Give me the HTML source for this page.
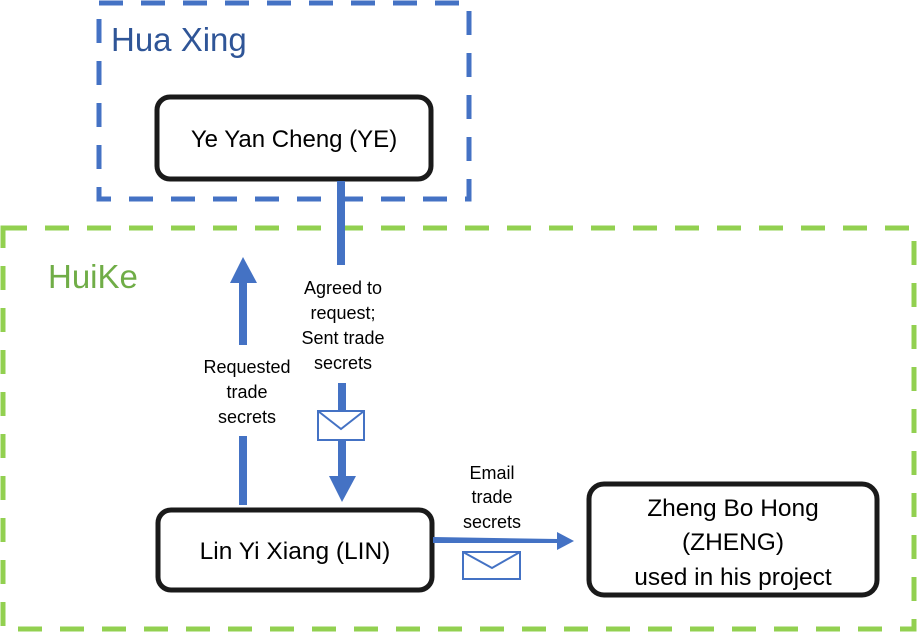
<!DOCTYPE html>
<html><head><style>
html,body{margin:0;padding:0;background:#fff;}
body{width:917px;height:632px;overflow:hidden;font-family:"Liberation Sans",sans-serif;}
</style></head><body>
<svg width="917" height="632" viewBox="0 0 917 632" xmlns="http://www.w3.org/2000/svg" font-family="Liberation Sans, sans-serif">
<rect x="99" y="3" width="370" height="196" fill="none" stroke="#4472c4" stroke-width="5" stroke-dasharray="24,18"/>
<rect x="3" y="228" width="911" height="401" fill="none" stroke="#92d050" stroke-width="5" stroke-dasharray="24,18"/>
<text x="111" y="51" font-size="33" fill="#2f5597">Hua Xing</text>
<text x="48" y="288" font-size="33" fill="#70ad47">HuiKe</text>
<!-- boxes -->
<rect x="157" y="97" width="274" height="82" rx="13" fill="#fff" stroke="#1a1a1a" stroke-width="5"/>
<text x="294" y="147" font-size="24" text-anchor="middle">Ye Yan Cheng (YE)</text>
<rect x="158" y="510" width="274" height="80" rx="13" fill="#fff" stroke="#1a1a1a" stroke-width="5"/>
<text x="295" y="559" font-size="24.5" text-anchor="middle">Lin Yi Xiang (LIN)</text>
<rect x="589" y="484" width="288" height="111" rx="15" fill="#fff" stroke="#1a1a1a" stroke-width="5"/>
<text x="733" y="516" font-size="24.5" text-anchor="middle">Zheng Bo Hong</text>
<text x="733" y="550" font-size="24.5" text-anchor="middle">(ZHENG)</text>
<text x="733" y="585" font-size="24.5" text-anchor="middle">used in his project</text>
<!-- down arrow -->
<line x1="341" y1="181" x2="341" y2="265" stroke="#4472c4" stroke-width="8"/>
<line x1="342" y1="383" x2="342" y2="410" stroke="#4472c4" stroke-width="8"/>
<line x1="342" y1="440" x2="342" y2="477" stroke="#4472c4" stroke-width="8"/>
<polygon points="329,476 356,476 342,502" fill="#4472c4"/>
<rect x="318" y="411" width="46" height="29" fill="#fff" stroke="#4472c4" stroke-width="2"/>
<polyline points="318,411 341,429 364,411" fill="none" stroke="#4472c4" stroke-width="2"/>
<text font-size="18" text-anchor="middle"><tspan x="343" y="294">Agreed to</tspan><tspan x="343" y="319">request;</tspan><tspan x="343" y="344">Sent trade</tspan><tspan x="343" y="369">secrets</tspan></text>
<!-- up arrow -->
<line x1="243" y1="345" x2="243" y2="280" stroke="#4472c4" stroke-width="8"/>
<polygon points="230,283 257,283 243,257" fill="#4472c4"/>
<line x1="243" y1="436" x2="243" y2="505" stroke="#4472c4" stroke-width="8"/>
<text font-size="18" text-anchor="middle"><tspan x="247" y="373">Requested</tspan><tspan x="247" y="398">trade</tspan><tspan x="247" y="423">secrets</tspan></text>
<!-- horizontal arrow -->
<polygon points="433,537 558,539 558,543 433,543" fill="#4472c4"/>
<polygon points="557,532 574,541 557,550" fill="#4472c4"/>
<rect x="463" y="552" width="57" height="27" fill="#fff" stroke="#4472c4" stroke-width="2"/>
<polyline points="463,552 492,568 520,552" fill="none" stroke="#4472c4" stroke-width="2"/>
<text font-size="18" text-anchor="middle"><tspan x="492" y="479">Email</tspan><tspan x="492" y="503">trade</tspan><tspan x="492" y="528">secrets</tspan></text>
</svg>
</body></html>
